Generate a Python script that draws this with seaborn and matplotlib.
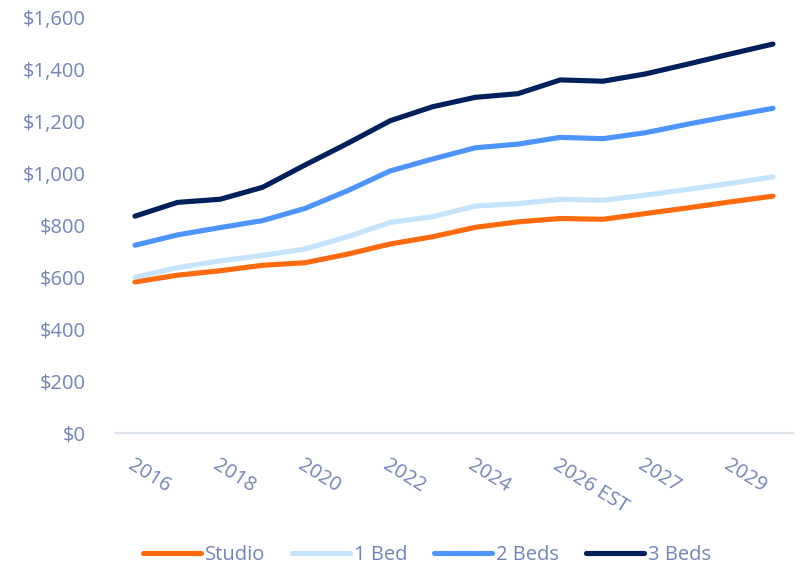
import matplotlib
matplotlib.use("Agg")
import matplotlib.pyplot as plt
from matplotlib.lines import Line2D
import seaborn as sns
import pandas as pd

years = ["2016", "2017", "2018", "2019", "2020", "2021", "2022", "2023",
         "2024", "2025", "2026 EST", "2026", "2027", "2028", "2029", "2030"]
studio = [581, 607, 624, 645, 655, 688, 727, 755, 791, 812, 825, 822, 844, 866, 889, 911]
one_bed = [599, 636, 662, 683, 708, 755, 810, 832, 873, 882, 899, 895, 915, 937, 960, 985]
two_beds = [722, 762, 790, 817, 864, 932, 1008, 1054, 1097, 1111, 1137, 1132, 1155, 1188, 1219, 1249]
three_beds = [834, 887, 899, 945, 1031, 1114, 1201, 1255, 1291, 1305, 1358, 1353, 1381, 1419, 1458, 1496]
series_names = ["Studio", "1 Bed", "2 Beds", "3 Beds"]
colors = ["#ff6a0d", "#c5e4fc", "#4d94ff", "#00205b"]
y_ticks = [0, 200, 400, 600, 800, 1000, 1200, 1400, 1600]

text_color = "#7384b8"
fs = 14.5

sns.set_theme(style="white")
plt.rcParams['font.family'] = ['Open Sans', 'DejaVu Sans']

rows = []
for name, vals in zip(series_names, [studio, one_bed, two_beds, three_beds]):
    for i, (yr, v) in enumerate(zip(years, vals)):
        rows.append({"idx": i, "Year": yr, "Rent": v, "Type": name})
df = pd.DataFrame(rows)

fig = plt.figure(figsize=(8.01, 5.68), dpi=100)
ax = fig.add_axes([115 / 801, 1 - 433 / 568, (793 - 115) / 801, (433 - 17) / 568])

sns.lineplot(data=df, x="idx", y="Rent", hue="Type", hue_order=series_names,
             palette=dict(zip(series_names, colors)), linewidth=3.7,
             ax=ax, sort=False, legend=False)
for ln in ax.lines:
    ln.set_solid_capstyle("round")
    ln.set_solid_joinstyle("round")

ax.set_ylim(0, 1600)
ax.set_xlim(-0.47, len(years) - 1 + 0.47)
ax.set_yticks(y_ticks)
ax.set_yticklabels([f"${v:,}" for v in y_ticks])
ax.set_xticks(range(len(years)))
ax.set_xticklabels([y if i % 2 == 0 else "" for i, y in enumerate(years)],
                   rotation=-32, ha="left", rotation_mode="anchor")
ax.set_xlabel("")
ax.set_ylabel("")
for s in ["top", "right", "left"]:
    ax.spines[s].set_visible(False)
ax.spines["bottom"].set_color("#dde3ea")
ax.spines["bottom"].set_linewidth(1.5)
ax.tick_params(axis="both", length=0, colors=text_color, labelsize=fs)
ax.tick_params(axis="y", pad=21)
ax.tick_params(axis="x", pad=16)
ax.grid(False)

handles = [Line2D([0], [0], color=c, lw=3.7, solid_capstyle="round") for c in colors]
fig.legend(handles, series_names, loc="center", bbox_to_anchor=(427 / 801, 1 - 555 / 568),
           ncol=4, frameon=False, handlelength=2.9, handletextpad=0.2,
           columnspacing=1.3, fontsize=fs, labelcolor=text_color)

fig.savefig("out.png", dpi=100)
